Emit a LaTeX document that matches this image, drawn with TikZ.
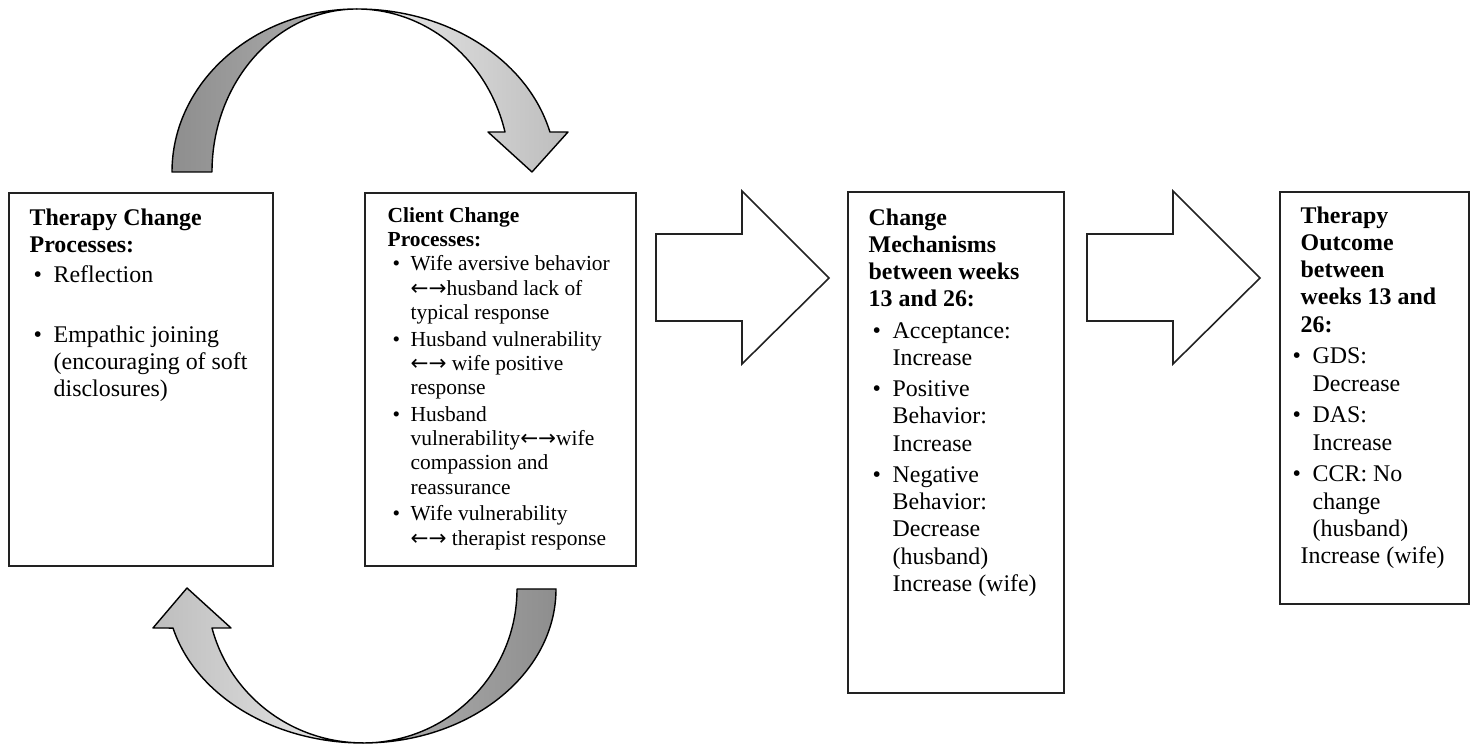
\documentclass[tikz,border=0pt]{standalone}
\usepackage{fontspec}
\setmainfont{Liberation Serif}
\newfontfamily\arrowfont{DejaVu Sans}
\usepackage{tikz}
\usetikzlibrary{positioning, calc}
\definecolor{kline}{HTML}{222222}
\definecolor{kdark}{HTML}{8E8E8E}
\definecolor{kdarkend}{HTML}{B2B2B2}
\definecolor{klight}{HTML}{EBEBEB}
\definecolor{klightend}{HTML}{BDBDBD}
\newcommand{\fatarrow}[1]{%
  \draw[kline, line width=0.45pt, fill=white, line join=miter]
    (#1,4.30) -- (#1,5.17) -- (#1+0.86,5.17) -- (#1+0.86,5.60)
    -- (#1+1.73,4.73) -- (#1+0.86,3.87) -- (#1+0.86,4.30) -- cycle;
}
\newcommand{\bul}[2]{\makebox[#1][l]{\hspace*{#2}\textbullet}}
\newcommand{\lrarrow}{{\arrowfont ←→}}
\tikzset{
  procbox/.style={draw=kline, line width=0.6pt, anchor=north west, inner sep=0pt},
  proctext/.style={anchor=north west, align=left, inner sep=0pt,
    font=\fontsize{6.8}{7.75}\selectfont},
  loopband/.style={draw=black, line width=0.4pt, line join=round},
}

\begin{document}
\begin{tikzpicture}[x=1cm, y=1cm]
  \useasboundingbox (0,0) rectangle (14.74,7.51);

  %% Boxes
  \node[procbox, minimum width=2.64cm, minimum height=3.73cm] (therapy) at (0.08,5.59) {};
  \node[procbox, minimum width=2.71cm, minimum height=3.73cm] (client) at (3.64,5.59) {};
  \node[procbox, minimum width=2.16cm, minimum height=5.01cm] (mechanism) at (8.47,5.60) {};
  \node[procbox, minimum width=1.89cm, minimum height=4.12cm] (outcome) at (12.79,5.60) {};

  %% Box texts
  \node[proctext, font=\fontsize{6.8}{7.7}\selectfont] (therapytext)
    at ([xshift=0.21cm, yshift=-0.16cm]therapy.north west)
    {\textbf{Therapy Change}\\
     \textbf{Processes:}\\[0.03cm]
     \bul{0.24cm}{0.04cm}Reflection\\[0.33cm]
     \bul{0.24cm}{0.04cm}Empathic joining\\
     \hspace*{0.24cm}(encouraging of soft\\
     \hspace*{0.24cm}disclosures)};

  \node[proctext, font=\fontsize{6.1}{6.94}\selectfont] (clienttext)
    at ([xshift=0.23cm, yshift=-0.145cm]client.north west)
    {\textbf{Client Change}\\
     \textbf{Processes:}\\
     \bul{0.23cm}{0.05cm}Wife aversive behavior\\
     \hspace*{0.23cm}\lrarrow husband lack of\\
     \hspace*{0.23cm}typical response\\[0.02cm]
     \bul{0.23cm}{0.05cm}Husband vulnerability\\
     \hspace*{0.23cm}\lrarrow{} wife positive\\
     \hspace*{0.23cm}response\\[0.02cm]
     \bul{0.23cm}{0.05cm}Husband\\
     \hspace*{0.23cm}vulnerability\lrarrow wife\\
     \hspace*{0.23cm}compassion and\\
     \hspace*{0.23cm}reassurance\\[0.02cm]
     \bul{0.23cm}{0.05cm}Wife vulnerability\\
     \hspace*{0.23cm}\lrarrow{} therapist response};

  \node[proctext] (mechanismtext)
    at ([xshift=0.21cm, yshift=-0.17cm]mechanism.north west)
    {\textbf{Change}\\
     \textbf{Mechanisms}\\
     \textbf{between weeks}\\
     \textbf{13 and 26:}\\[0.04cm]
     \bul{0.24cm}{0.04cm}Acceptance:\\
     \hspace*{0.24cm}Increase\\[0.04cm]
     \bul{0.24cm}{0.04cm}Positive\\
     \hspace*{0.24cm}Behavior:\\
     \hspace*{0.24cm}Increase\\[0.04cm]
     \bul{0.24cm}{0.04cm}Negative\\
     \hspace*{0.24cm}Behavior:\\
     \hspace*{0.24cm}Decrease\\
     \hspace*{0.24cm}(husband)\\
     \hspace*{0.24cm}Increase (wife)};

  \node[proctext] (outcometext)
    at ([xshift=0.21cm, yshift=-0.15cm]outcome.north west)
    {\textbf{Therapy}\\
     \textbf{Outcome}\\
     \textbf{between}\\
     \textbf{weeks 13 and}\\
     \textbf{26:}\\[0.045cm]
     \bul{0.12cm}{-0.08cm}GDS:\\
     \hspace*{0.12cm}Decrease\\[0.045cm]
     \bul{0.12cm}{-0.08cm}DAS:\\
     \hspace*{0.12cm}Increase\\[0.045cm]
     \bul{0.12cm}{-0.08cm}CCR: No\\
     \hspace*{0.12cm}change\\
     \hspace*{0.12cm}(husband)\\
     Increase (wife)};

  %% Block arrows
  \fatarrow{6.56}
  \fatarrow{10.87}

  %% Top loop arrow
  \shade[loopband, left color=kdark, right color=kdarkend]
    (1.72,5.79) arc[start angle=180, end angle=90, x radius=1.85, y radius=1.63]
    arc[start angle=90, end angle=180, x radius=1.45, y radius=1.63] -- cycle;
  \shade[loopband, left color=klight, right color=klightend]
    (3.57,7.42) arc[start angle=90, end angle=14.2, x radius=1.99, y radius=1.63]
    -- (5.68,6.19) -- (5.32,5.79) -- (4.88,6.19) -- (5.05,6.19)
    arc[start angle=14.2, end angle=90, x radius=1.53, y radius=1.63] -- cycle;

  %% Bottom loop arrow
  \shade[loopband, left color=kdarkend, right color=kdark]
    (5.56,1.62) arc[start angle=0, end angle=-90, x radius=1.93, y radius=1.54]
    arc[start angle=-90, end angle=0, x radius=1.54, y radius=1.54] -- cycle;
  \shade[loopband, left color=klightend, right color=klight]
    (3.63,0.08) arc[start angle=270, end angle=194.7, x radius=1.964, y radius=1.54]
    -- (1.53,1.23) -- (1.87,1.63) -- (2.31,1.23) -- (2.12,1.23)
    arc[start angle=194.7, end angle=270, x radius=1.561, y radius=1.54] -- cycle;

\end{tikzpicture}
\end{document}
